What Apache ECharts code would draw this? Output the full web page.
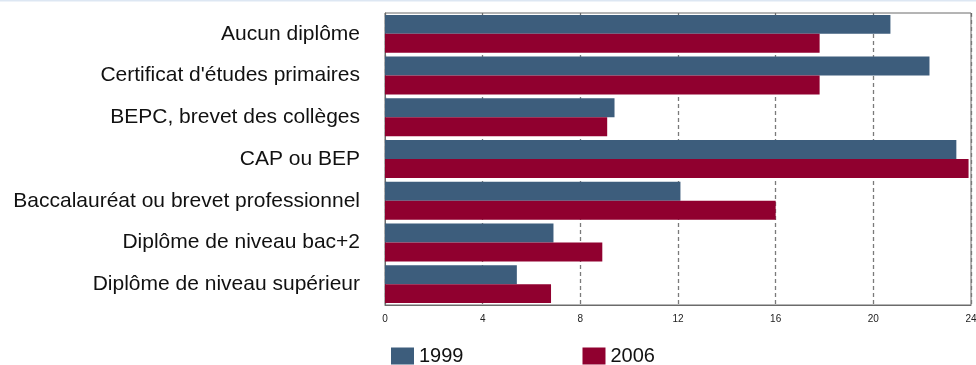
<!DOCTYPE html>
<html>
<head>
<meta charset="utf-8">
<script src="https://cdn.jsdelivr.net/npm/echarts@6/dist/echarts.min.js"></script>
<style>
  html, body { margin: 0; padding: 0; background: #fff; }
  #chart { width: 976px; height: 365px; }
</style>
</head>
<body>
<div id="chart"></div>
<script>
// Niveau de diplôme : répartition (%) en 1999 et 2006
const categories = [
  "Aucun diplôme",
  "Certificat d'études primaires",
  "BEPC, brevet des collèges",
  "CAP ou BEP",
  "Baccalauréat ou brevet professionnel",
  "Diplôme de niveau bac+2",
  "Diplôme de niveau supérieur"
];
const seriesNames = ["1999", "2006"];
const values1999 = [20.7, 22.3, 9.4, 23.4, 12.1, 6.9, 5.4];
const values2006 = [17.8, 17.8, 9.1, 23.9, 16.0, 8.9, 6.8];
const xTicks = [0, 4, 8, 12, 16, 20, 24];

const FONT = "'Liberation Sans', Arial, sans-serif";
const BLUE = "#3d5d7c";
const RED = "#90002f";

const chart = echarts.init(document.getElementById("chart"), null, { renderer: "canvas" });

chart.setOption({
  animation: false,
  backgroundColor: "#ffffff",
  textStyle: { fontFamily: FONT },
  grid: {
    left: 385, top: 13, right: 5, bottom: 60,
    outerBoundsMode: "none", containLabel: false,
    show: true, borderColor: "#6b6b6b", borderWidth: 1, backgroundColor: "transparent"
  },
  legend: {
    data: seriesNames,
    left: 391, top: 346, padding: 0,
    itemWidth: 23, itemHeight: 17, itemGap: 119,
    icon: "rect",
    textStyle: { fontSize: 20, color: "#111", fontFamily: FONT, lineHeight: 20 }
  },
  graphic: [{
    type: "rect", left: 0, top: 0,
    shape: { width: 976, height: 1.5 },
    style: { fill: "#dde7f3" }, silent: true
  }],
  xAxis: [{
    type: "value", position: "bottom",
    min: xTicks[0], max: xTicks[xTicks.length - 1], interval: 4,
    axisLine: { show: true, lineStyle: { color: "#6b6b6b", width: 1 } },
    axisTick: { show: false },
    axisLabel: { fontSize: 10, color: "#222", margin: 9, fontFamily: FONT, showMaxLabel: true },
    splitLine: { show: true, lineStyle: { color: "#7a7a7a", type: [4, 3], width: 1.3 } }
  }, {
    type: "value", position: "top",
    min: xTicks[0], max: xTicks[xTicks.length - 1], interval: 4,
    axisLine: { show: false },
    axisTick: { show: true, inside: true, length: 3, lineStyle: { color: "#6b6b6b" } },
    axisLabel: { show: false },
    splitLine: { show: false }
  }],
  yAxis: {
    type: "category", inverse: true, data: categories,
    axisLine: { show: true, lineStyle: { color: "#6b6b6b", width: 1 } },
    axisTick: { show: false },
    axisLabel: { fontSize: 21, color: "#111", margin: 25, fontFamily: FONT, padding: [0, 0, 6, 0] }
  },
  series: [{
    name: seriesNames[0], type: "bar", data: values1999,
    xAxisIndex: 0,
    itemStyle: { color: BLUE },
    barGap: "0%", barCategoryGap: "9%"
  }, {
    name: seriesNames[1], type: "bar", data: values2006,
    xAxisIndex: 0,
    itemStyle: { color: RED },
    barGap: "0%", barCategoryGap: "9%"
  }]
});
</script>
</body>
</html>
